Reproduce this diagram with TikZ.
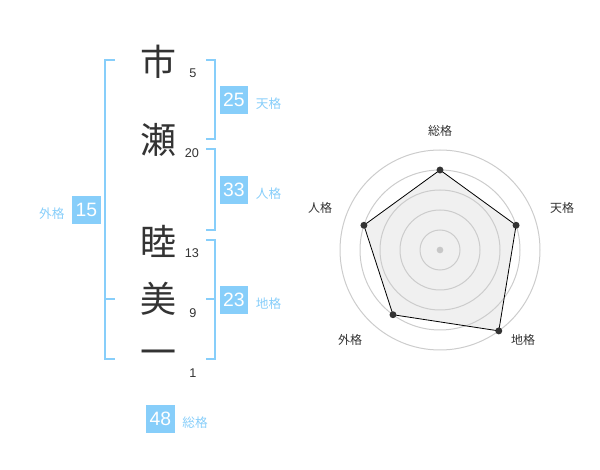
\documentclass[tikz,border=0pt]{standalone}
\usepackage{fontspec}
\setmainfont{Liberation Sans}
\newfontfamily\jp{Noto Sans CJK JP}
\usetikzlibrary{positioning}
\definecolor{sky}{RGB}{135,206,250}
\definecolor{ink}{RGB}{51,51,51}

\begin{document}
\begin{tikzpicture}[x=0.75pt, y=-0.75pt,
  kanji/.style={font=\jp\fontsize{27}{27}\selectfont, text=ink},
  strokes/.style={font=\fontsize{9.5}{10}\selectfont, text=ink},
  score/.style={fill=sky, text=white, font=\fontsize{14.5}{15}\selectfont, minimum width=21.5pt, minimum height=21.5pt, inner sep=0pt},
  kaku/.style={font=\jp\fontsize{9.5}{10}\selectfont, text=sky, yshift=-2.5pt},
  bracket/.style={draw=sky, line width=1.5pt},
  ring/.style={draw=black!20, line width=0.75pt},
  axis/.style={font=\jp\fontsize{9}{10}\selectfont, text=ink},
  dot/.style={circle, fill=ink, inner sep=0pt, minimum size=5.2pt}]
  \useasboundingbox (0,0) rectangle (600,470);

  % Name
  \node[kanji] (c1) at (158,62) {市};
  \node[kanji] (c2) at (158,140) {瀬};
  \node[kanji] (c3) at (158,241) {睦};
  \node[kanji] (c4) at (158,299) {美};
  \node[kanji] (c5) at (158,358) {一};

  % Strokes
  \node[strokes] (s1) at (193,73) {5};
  \node[strokes] (s2) at (192,153) {20};
  \node[strokes] (s3) at (192,253) {13};
  \node[strokes] (s4) at (193,313) {9};
  \node[strokes] (s5) at (193,373) {1};

  % Brackets
  \draw[bracket] (115,60) -- (105,60) -- (105,359) -- (115,359);
  \draw[bracket] (105,299) -- (115,299);
  \draw[bracket] (206,60) -- (215,60) -- (215,139) -- (206,139);
  \draw[bracket] (206,149) -- (215,149) -- (215,230) -- (206,230);
  \draw[bracket] (206,240) -- (215,240) -- (215,359) -- (206,359);
  \draw[bracket] (206,299) -- (215,299);

  % Scores
  \node[score] (ten) at (234,100) {25};
  \node[kaku, right=2pt of ten] (tenL) {天格};
  \node[score] (jin) at (234,190) {33};
  \node[kaku, right=2pt of jin] (jinL) {人格};
  \node[score] (chi) at (234,300) {23};
  \node[kaku, right=2pt of chi] (chiL) {地格};
  \node[score] (gai) at (86.5,210) {15};
  \node[kaku, left=2pt of gai] (gaiL) {外格};
  \node[score] (sou) at (160.5,419) {48};
  \node[kaku, right=2pt of sou] (souL) {総格};

  % Radar
  \begin{scope}[shift={(440,250)}]
    \coordinate (pSou) at (-90:80);
    \coordinate (pTen) at (-18:80);
    \coordinate (pChi) at (54:100);
    \coordinate (pGai) at (126:80);
    \coordinate (pJin) at (-162:80);
    \fill[black!6] (pSou) -- (pTen) -- (pChi) -- (pGai) -- (pJin) -- cycle;
    \foreach \r in {20,40,60,80,100} \draw[ring] (0,0) circle[radius=\r];
    \draw[black, line width=0.6pt] (pSou) -- (pTen) -- (pChi) -- (pGai) -- (pJin) -- cycle;
    \foreach \p in {pSou,pTen,pChi,pGai,pJin} \node[dot] at (\p) {};
    \node[circle, fill=black!22, inner sep=0pt, minimum size=5pt] (center) at (0,0) {};
    \node[axis] (aSou) at (0,-119) {総格};
    \node[axis] (aTen) at (122,-42) {天格};
    \node[axis] (aChi) at (83,90) {地格};
    \node[axis] (aGai) at (-90,90) {外格};
    \node[axis] (aJin) at (-120,-42) {人格};
  \end{scope}
\end{tikzpicture}
\end{document}
